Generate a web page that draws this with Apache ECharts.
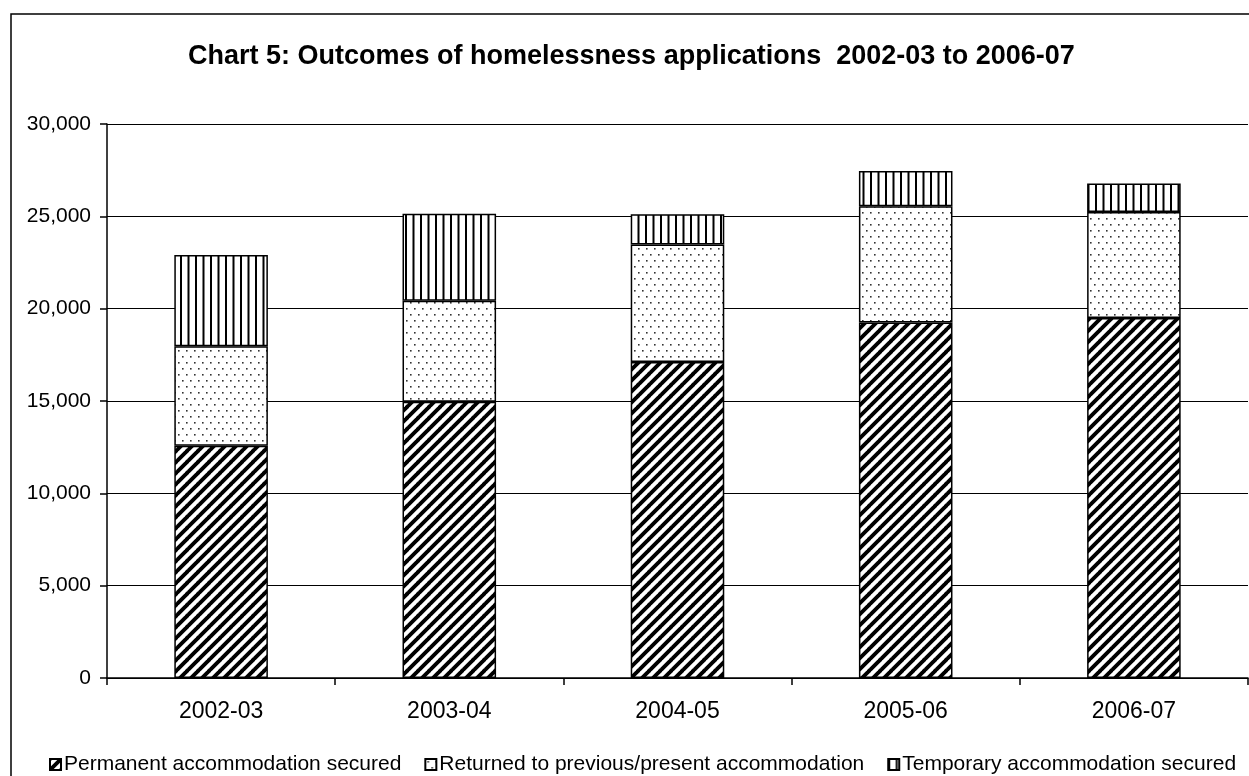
<!DOCTYPE html>
<html>
<head>
<meta charset="utf-8">
<script src="https://cdn.jsdelivr.net/npm/echarts@6/dist/echarts.min.js"></script>
<style>
html,body{margin:0;padding:0;background:#fff;}
#chart{width:1249px;height:776px;}
</style>
</head>
<body>
<div id="chart"></div>
<script>
var categories = ['2002-03', '2003-04', '2004-05', '2005-06', '2006-07'];
var permanent = [12580, 14960, 17110, 19250, 19500];
var returned = [5390, 5470, 6370, 6300, 5730];
var temporary = [4930, 4710, 1630, 1900, 1550];
var seriesNames = ['Permanent accommodation secured', 'Returned to previous/present accommodation', 'Temporary accommodation secured'];
var titleText = 'Chart 5: Outcomes of homelessness applications  2002-03 to 2006-07';

function makeCanvas(w, h, draw) {
  var c = document.createElement('canvas');
  c.width = w; c.height = h;
  var ctx = c.getContext('2d');
  ctx.fillStyle = '#fff';
  ctx.fillRect(0, 0, w, h);
  draw(ctx, w, h);
  return c;
}
var diagCanvas = makeCanvas(11, 11, function (ctx, w, h) {
  ctx.strokeStyle = '#000';
  ctx.lineWidth = 3.9;
  for (var k = -w; k <= w; k += w) {
    ctx.beginPath();
    ctx.moveTo(k - 1, h + 1);
    ctx.lineTo(k + w + 1, -1);
    ctx.stroke();
  }
});
var dotCanvas = makeCanvas(8, 12, function (ctx) {
  ctx.fillStyle = '#333';
  ctx.fillRect(2, 2, 1.6, 1.6);
  ctx.fillRect(6, 8, 1.6, 1.6);
});
var vertCanvas = makeCanvas(15, 8, function (ctx) {
  ctx.fillStyle = '#000';
  ctx.fillRect(0, 0, 2, 8);
  ctx.fillRect(7.5, 0, 2, 8);
});

var patterns = [
  { image: diagCanvas, repeat: 'repeat' },
  { image: dotCanvas, repeat: 'repeat' },
  { image: vertCanvas, repeat: 'repeat' }
];
var dataSets = [permanent, returned, temporary];

var chart = echarts.init(document.getElementById('chart'), null, { renderer: 'canvas' });
var series = dataSets.map(function (d, i) {
  return {
    name: seriesNames[i],
    type: 'bar',
    stack: 'total',
    barWidth: '41%',
    data: d,
    itemStyle: { color: patterns[i], borderColor: '#000', borderWidth: 1.5 },
    emphasis: { disabled: true }
  };
});

chart.setOption({
  animation: false,
  backgroundColor: '#fff',
  textStyle: { fontFamily: 'Liberation Sans, Arial, sans-serif', color: '#000' },
  title: {
    text: titleText,
    left: 183,
    top: 38,
    textStyle: { fontSize: 27, fontWeight: 'bold', color: '#000', fontFamily: 'Liberation Sans, Arial, sans-serif' }
  },
  graphic: [{
    type: 'rect',
    shape: { x: 11, y: 14, width: 1260, height: 800 },
    style: { fill: 'none', stroke: '#000', lineWidth: 1.5 },
    silent: true
  }],
  legend: {
    left: 44,
    top: 749,
    itemWidth: 11,
    itemHeight: 11,
    itemGap: 23,
    icon: 'rect',
    textStyle: { fontSize: 21, color: '#000', padding: [0, 0, 0, -2] },
    data: seriesNames
  },
  grid: { left: 107, right: 1, top: 124, bottom: 98 },
  xAxis: {
    type: 'category',
    data: categories,
    axisLine: { lineStyle: { color: '#000', width: 1.5 } },
    axisTick: { show: true, alignWithLabel: false, length: 7, lineStyle: { color: '#000', width: 1.5 } },
    axisLabel: { fontSize: 23, color: '#000', margin: 22 }
  },
  yAxis: {
    type: 'value',
    min: 0,
    max: 30000,
    interval: 5000,
    axisLine: { show: true, lineStyle: { color: '#000', width: 1.5 } },
    axisTick: { show: true, length: 7, lineStyle: { color: '#000', width: 1.5 } },
    splitLine: { lineStyle: { color: '#000', width: 1.2 } },
    axisLabel: {
      fontSize: 21, color: '#000', margin: 16,
      formatter: function (v) { return v.toLocaleString('en-US'); }
    }
  },
  series: series
});
</script>
</body>
</html>
